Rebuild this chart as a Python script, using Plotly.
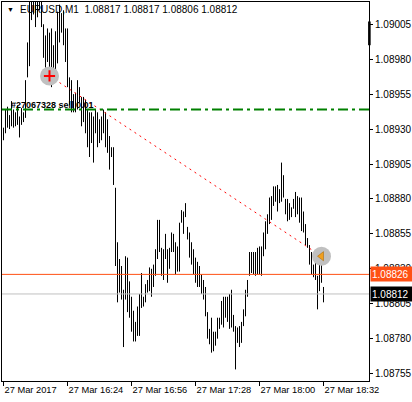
import pandas as pd
import plotly.graph_objects as go

# EURUSD M1 bars, 27 Mar 2017 from 15:52
START = "2017-03-27 15:52"
HIGHS = [
    1.08931, 1.08944, 1.08946, 1.08940, 1.08950, 1.08944, 1.08942, 1.08947, 1.08939, 1.08945,
    1.08942, 1.08965, 1.08992, 1.09026, 1.09025, 1.09025, 1.09024, 1.09026, 1.09022, 1.09022,
    1.09005, 1.08997, 1.09002, 1.08999, 1.09002, 1.08990, 1.09000, 1.09014, 1.09019, 1.09013,
    1.09015, 1.09002, 1.09002, 1.08967, 1.08965, 1.08955, 1.08956, 1.08965, 1.08960, 1.08953,
    1.08953, 1.08951, 1.08944, 1.08942, 1.08942, 1.08939, 1.08944, 1.08942, 1.08937, 1.08939,
    1.08944, 1.08942, 1.08937, 1.08925, 1.08917, 1.08917, 1.08888, 1.08849, 1.08837, 1.08832,
    1.08815, 1.08839, 1.08838, 1.08821, 1.08810, 1.08800, 1.08792, 1.08803, 1.08812, 1.08827,
    1.08810, 1.08819, 1.08822, 1.08831, 1.08830, 1.08833, 1.08844, 1.08865, 1.08865, 1.08845,
    1.08844, 1.08855, 1.08844, 1.08845, 1.08856, 1.08855, 1.08849, 1.08846, 1.08863, 1.08872,
    1.08871, 1.08877, 1.08860, 1.08856, 1.08849, 1.08844, 1.08838, 1.08835, 1.08832, 1.08826,
    1.08822, 1.08817, 1.08799, 1.08787, 1.08795, 1.08785, 1.08785, 1.08795, 1.08795, 1.08807,
    1.08810, 1.08810, 1.08810, 1.08812, 1.08815, 1.08797, 1.08789, 1.08788, 1.08789, 1.08792,
    1.08801, 1.08815, 1.08822, 1.08842, 1.08842, 1.08842, 1.08842, 1.08845, 1.08846, 1.08846,
    1.08856, 1.08864, 1.08869, 1.08881, 1.08882, 1.08889, 1.08889, 1.08890, 1.08887, 1.08906,
    1.08897, 1.08880, 1.08880, 1.08877, 1.08874, 1.08880, 1.08885, 1.08882, 1.08881, 1.08881,
    1.08871, 1.08862, 1.08852, 1.08847, 1.08842, 1.08833, 1.08835, 1.08825, 1.08838, 1.08837,
    1.08817,
]
LOWS = [
    1.08922, 1.08927, 1.08931, 1.08930, 1.08932, 1.08931, 1.08932, 1.08933, 1.08924, 1.08933,
    1.08935, 1.08938, 1.08967, 1.08975, 1.09008, 1.09012, 1.09003, 1.09010, 1.09015, 1.09003,
    1.08981, 1.08974, 1.08978, 1.08970, 1.08960, 1.08965, 1.08964, 1.08977, 1.08992, 1.08999,
    1.08990, 1.08978, 1.08960, 1.08947, 1.08942, 1.08942, 1.08942, 1.08944, 1.08949, 1.08932,
    1.08935, 1.08927, 1.08917, 1.08910, 1.08920, 1.08906, 1.08927, 1.08917, 1.08920, 1.08922,
    1.08927, 1.08917, 1.08913, 1.08901, 1.08910, 1.08890, 1.08832, 1.08806, 1.08813, 1.08808,
    1.08774, 1.08808, 1.08799, 1.08795, 1.08785, 1.08778, 1.08778, 1.08782, 1.08782, 1.08802,
    1.08803, 1.08806, 1.08813, 1.08814, 1.08810, 1.08817, 1.08825, 1.08837, 1.08842, 1.08825,
    1.08822, 1.08837, 1.08820, 1.08830, 1.08842, 1.08842, 1.08826, 1.08828, 1.08828, 1.08863,
    1.08855, 1.08867, 1.08851, 1.08838, 1.08833, 1.08826, 1.08820, 1.08817, 1.08817, 1.08812,
    1.08808, 1.08796, 1.08780, 1.08776, 1.08770, 1.08771, 1.08775, 1.08780, 1.08787, 1.08790,
    1.08788, 1.08795, 1.08792, 1.08787, 1.08788, 1.08785, 1.08758, 1.08777, 1.08774, 1.08777,
    1.08789, 1.08796, 1.08810, 1.08825, 1.08827, 1.08826, 1.08825, 1.08826, 1.08826, 1.08825,
    1.08839, 1.08844, 1.08855, 1.08862, 1.08865, 1.08875, 1.08878, 1.08871, 1.08877, 1.08878,
    1.08881, 1.08869, 1.08864, 1.08865, 1.08867, 1.08873, 1.08867, 1.08869, 1.08863, 1.08857,
    1.08856, 1.08847, 1.08845, 1.08833, 1.08826, 1.08824, 1.08822, 1.08801, 1.08814, 1.08820,
    1.08806,
]

# order #27067328 sell 0.01
ORDER_LABEL = "#27067328 sell 0.01"
ORDER_LEVEL = 1.08944
OPEN_TIME, OPEN_PRICE = "2017-03-27 16:15", 1.08968
CLOSE_TIME, CLOSE_PRICE = "2017-03-27 18:31", 1.08839

ASK_LEVEL = 1.08826
BID_LEVEL = 1.08812
HEADER = "EURUSD,M1  1.08817 1.08817 1.08806 1.08812"

Y_TICKS = [1.08755, 1.08780, 1.08805, 1.08830, 1.08855, 1.08880,
           1.08905, 1.08930, 1.08955, 1.08980, 1.09005]
X_TICKS = ["2017-03-27 15:52", "2017-03-27 16:24", "2017-03-27 16:56",
           "2017-03-27 17:28", "2017-03-27 18:00", "2017-03-27 18:32"]
X_LABELS = ["27 Mar 2017", "27 Mar 16:24", "27 Mar 16:56",
            "27 Mar 17:28", "27 Mar 18:00", "27 Mar 18:32"]

FONT = "Liberation Sans, Arial, sans-serif"
ORANGE = "rgb(255,80,20)"

times = pd.date_range(START, periods=len(HIGHS), freq="min")

# high-low bars as one broken line
bx, by = [], []
for t, hi, lo in zip(times, HIGHS, LOWS):
    bx += [t, t, None]
    by += [lo, hi, None]

fig = go.Figure()
fig.add_trace(go.Scatter(x=bx, y=by, mode="lines",
                         line=dict(color="black", width=1), hoverinfo="skip"))

# price lines
fig.add_hline(y=ORDER_LEVEL, line=dict(color="#008000", width=2, dash="10px,4px,3px,4px"))
fig.add_hline(y=ASK_LEVEL, line=dict(color=ORANGE, width=1))
fig.add_hline(y=BID_LEVEL, line=dict(color="#c0c0c0", width=1))

# trade open -> close
fig.add_trace(go.Scatter(x=[OPEN_TIME, CLOSE_TIME], y=[OPEN_PRICE, CLOSE_PRICE], mode="lines",
                         line=dict(color="red", width=1, dash="2px,4px"), hoverinfo="skip"))
fig.add_trace(go.Scatter(x=[OPEN_TIME, CLOSE_TIME], y=[OPEN_PRICE, CLOSE_PRICE], mode="markers",
                         marker=dict(size=19, color="#c0c0c0"), hoverinfo="skip"))
fig.add_trace(go.Scatter(x=[OPEN_TIME], y=[OPEN_PRICE], mode="markers",
                         marker=dict(symbol="cross-thin", size=8, line=dict(color="red", width=2)),
                         hoverinfo="skip"))
fig.add_trace(go.Scatter(x=[CLOSE_TIME], y=[CLOSE_PRICE], mode="markers",
                         marker=dict(symbol="triangle-left", size=8, color="#f0a020",
                                     line=dict(color="#a06000", width=0.5)),
                         hoverinfo="skip"))

# header and order label
fig.add_annotation(xref="paper", yref="paper", x=0.008, y=0.979, text="▼",
                   showarrow=False, xanchor="left", yanchor="middle",
                   font=dict(family=FONT, size=7, color="black"))
fig.add_annotation(xref="paper", yref="paper", x=0.043, y=0.979, text=HEADER,
                   showarrow=False, xanchor="left", yanchor="middle",
                   font=dict(family=FONT, size=10, color="black"))
fig.add_annotation(xref="paper", y=ORDER_LEVEL, x=0.018, text=f"<b>{ORDER_LABEL}</b>",
                   showarrow=False, xanchor="left", yanchor="bottom", yshift=-2,
                   font=dict(family=FONT, size=9, color="black"))

# price boxes on the axis
for level, bg in [(ASK_LEVEL, ORANGE), (BID_LEVEL, "black")]:
    fig.add_annotation(xref="paper", y=level, x=1.0027, text=f"{level:.5f}",
                       showarrow=False, xanchor="left", yanchor="middle",
                       bgcolor=bg, width=40, height=12, align="left", borderpad=1,
                       font=dict(family=FONT, size=10, color="white"))

# small mark on the price scale
fig.add_shape(type="rect", xref="paper", x0=0.9975, x1=1.0045, y0=1.08990, y1=1.09007,
              fillcolor="black", line=dict(width=0))

fig.update_layout(
    template="none",
    width=412, height=402,
    margin=dict(l=2, r=43, t=2, b=21),
    paper_bgcolor="white", plot_bgcolor="white",
    showlegend=False,
    font=dict(family=FONT, size=9, color="black"),
)
fig.update_xaxes(
    type="date",
    range=["2017-03-27 15:51:15", "2017-03-27 18:54:45"],
    tickvals=X_TICKS, ticktext=X_LABELS,
    ticks="outside", ticklen=4, tickcolor="black",
    ticklabelposition="outside right",
    tickfont=dict(size=9.3),
    showline=True, linecolor="black", linewidth=1, mirror=True,
    showgrid=False, zeroline=False, automargin=False,
)
fig.update_yaxes(
    range=[1.0874971, 1.0902093],
    side="right",
    tickvals=Y_TICKS, tickformat=".5f",
    ticks="outside", ticklen=3, tickcolor="black",
    tickfont=dict(size=10),
    showline=True, linecolor="black", linewidth=1, mirror=True,
    showgrid=False, zeroline=False, automargin=False,
)

# the page has a default body margin; drop it so the figure fills the window
fig.write_html("out.html", config={"displayModeBar": False},
               post_script="document.body.style.margin = '0';")
